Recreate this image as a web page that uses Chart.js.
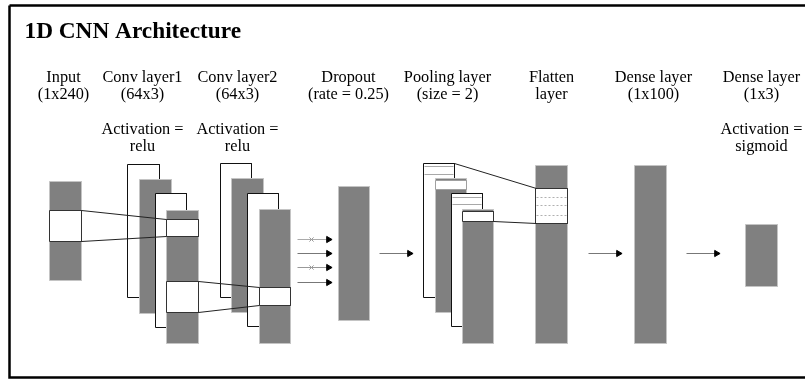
<!DOCTYPE html>
<html><head><meta charset="utf-8">
<script src="https://cdn.jsdelivr.net/npm/chart.js@4.4.1/dist/chart.umd.min.js"></script>
<style>html,body{margin:0;padding:0;background:#fff}canvas{display:block}</style>
</head><body>
<canvas id="c" width="805" height="379"></canvas>
<script>
// ---- text content ----
const title = '1D CNN Architecture';
const layerNames = ['Input', 'Conv layer1', 'Conv layer2', 'Dropout', 'Pooling layer', 'Flatten', 'Dense layer', 'Dense layer'];
const layerSpecs = ['(1x240)', '(64x3)', '(64x3)', '(rate = 0.25)', '(size = 2)', 'layer', '(1x100)', '(1x3)'];
const activationHead = ['', 'Activation =', 'Activation =', '', '', '', '', 'Activation ='];
const activationFn = ['', 'relu', 'relu', '', '', '', '', 'sigmoid'];

// ---- diagram geometry (diagram units on the x/y scales) ----
const labelCenters = [63, 142, 237, 348, 447, 551, 653, 761];
// kind: g = gray feature map, w = white feature map, win = window (black edge), winG = window (gray edge)
const blocks = [
  ['g', 49, 181, 81, 280], ['win', 49, 210, 81, 241],
  ['w', 127, 164, 159, 297], ['g', 139, 179, 171, 313], ['w', 155, 193, 186, 327], ['g', 166, 210, 198, 343],
  ['win', 166, 219, 198, 236], ['win', 166, 281, 198, 312],
  ['w', 220, 163, 251, 297], ['g', 231, 178, 263, 312], ['w', 247, 193, 278, 326], ['g', 259, 209, 290, 343],
  ['win', 259, 287, 290, 305],
  ['g', 338, 186, 369, 320],
  ['w', 423, 163, 454, 297], ['g', 435, 178, 466, 312], ['winG', 435, 180, 466, 189],
  ['w', 451, 193, 482, 326], ['g', 462, 209, 493, 343], ['win', 462, 211, 493, 221],
  ['g', 535, 165, 567, 343], ['win', 535, 188, 567, 223],
  ['g', 634, 165, 666, 343],
  ['g', 745, 224, 777, 286]
];
const grayRules = [[424, 453, 166], [424, 453, 174], [452, 481, 197], [452, 481, 204]];
const dashedRules = [[536, 566, 197], [536, 566, 205], [536, 566, 215]];
const connectors = [
  [81, 210, 166, 219], [81, 241, 166, 236],
  [198, 281, 259, 287], [198, 312, 259, 305],
  [454, 163, 536, 188], [493, 221, 536, 223]
];
// arrows: x start, x end, y, line colour
const arrows = [
  [297, 328, 239, '#aaaaaa'], [297, 328, 253, '#777777'], [297, 328, 267, '#999999'], [297, 328, 282, '#777777'],
  [379, 409, 253, '#777777'], [588, 618, 253, '#777777'], [686, 716, 253, '#777777']
];
const droppedMarks = [[311, 239], [311, 267]];
const frame = [9, 5, 815, 377];

// ---- datasets ----
const datasets = [];
function poly(points, opts) {
  datasets.push(Object.assign({
    data: points, showLine: true, pointRadius: 0, pointHoverRadius: 0, tension: 0,
    borderWidth: 1, fill: false
  }, opts));
}
function rectPts(x0, y0, x1, y1) {
  return [{x:x0,y:y0},{x:x1,y:y0},{x:x1,y:y1},{x:x0,y:y1},{x:x0,y:y0}];
}
poly(rectPts(frame[0], frame[1], frame[2], frame[3]), {borderColor: '#000', borderWidth: 2.5});
const styles = {
  g: {backgroundColor: '#808080', borderColor: '#c4c4c4'},
  w: {backgroundColor: '#ffffff', borderColor: '#111111'},
  win: {backgroundColor: '#ffffff', borderColor: '#333333'},
  winG: {backgroundColor: '#ffffff', borderColor: '#a0a0a0'}
};
blocks.forEach(b => {
  const s = styles[b[0]];
  poly(rectPts(b[1], b[2], b[3], b[4]), {fill: 'shape', backgroundColor: s.backgroundColor, borderColor: s.borderColor});
});
grayRules.forEach(r => poly([{x:r[0],y:r[2]},{x:r[1],y:r[2]}], {borderColor: '#a8a8a8'}));
dashedRules.forEach(r => poly([{x:r[0],y:r[2]},{x:r[1],y:r[2]}], {borderColor: '#b0b0b0', borderDash: [2, 2]}));
connectors.forEach(c => poly([{x:c[0],y:c[1]},{x:c[2],y:c[3]}], {borderColor: '#222222'}));
arrows.forEach(a => {
  poly([{x:a[0],y:a[2]},{x:a[1],y:a[2]}], {borderColor: a[3]});
  datasets.push({data: [{x:a[1], y:a[2]}], showLine: false, pointStyle: 'triangle', rotation: 90,
    pointRadius: 3.6, backgroundColor: '#000', borderColor: '#000', borderWidth: 1});
});
datasets.push({data: droppedMarks.map(m => ({x:m[0], y:m[1]})), showLine: false, pointStyle: 'crossRot',
  pointRadius: 3, borderColor: '#9a9a9a', borderWidth: 1});

// draw in array order (first = bottom)
const N = datasets.length;
datasets.forEach((d, i) => { d.order = N - i; d.clip = false; });

const textPlugin = {
  id: 'diagramText',
  afterDraw(chart) {
    const {ctx, scales: {x, y}} = chart;
    ctx.save();
    ctx.fillStyle = '#000';
    ctx.textBaseline = 'alphabetic';
    ctx.font = 'bold 23.3px "Liberation Serif"';
    ctx.textAlign = 'left';
    ctx.fillText(title, x.getPixelForValue(24), y.getPixelForValue(37));
    ctx.font = '16.3px "Liberation Serif"';
    ctx.textAlign = 'center';
    layerNames.forEach((n, i) => {
      const cx = x.getPixelForValue(labelCenters[i]);
      ctx.fillText(n, cx, y.getPixelForValue(81));
      ctx.fillText(layerSpecs[i], cx, y.getPixelForValue(98));
      if (activationHead[i]) ctx.fillText(activationHead[i], cx, y.getPixelForValue(133));
      if (activationFn[i]) ctx.fillText(activationFn[i], cx, y.getPixelForValue(150));
    });
    ctx.restore();
  }
};

new Chart(document.getElementById('c'), {
  type: 'scatter',
  data: {datasets},
  options: {
    responsive: false, animation: false, events: [],
    layout: {padding: 0, autoPadding: false},
    plugins: {legend: {display: false}, tooltip: {enabled: false}},
    scales: {
      x: {type: 'linear', min: -0.5, max: 804.5, display: false},
      y: {type: 'linear', min: -0.5, max: 378.5, reverse: true, display: false}
    }
  },
  plugins: [textPlugin]
});
</script>
</body></html>
